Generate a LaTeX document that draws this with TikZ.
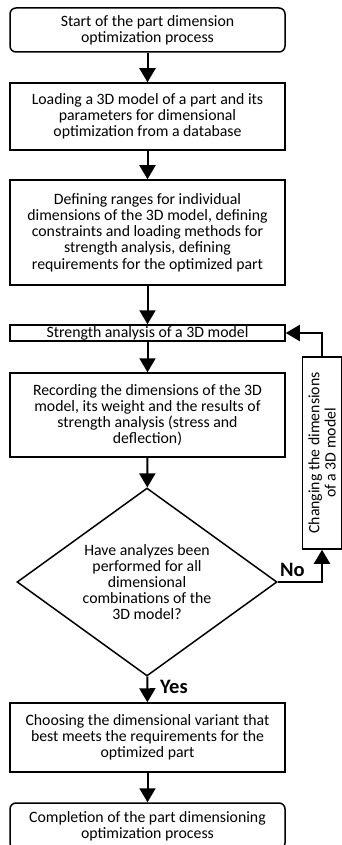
\documentclass[tikz,border=0pt]{standalone}
\usepackage{fontspec}
\setmainfont{Carlito}
\usetikzlibrary{shapes.geometric, arrows.meta, calc}

\begin{document}
\begin{tikzpicture}[x=1pt, y=1pt,
	every node/.style={font=\fontsize{15.8}{16.2}\selectfont, align=center},
	stepbox/.style={draw, line width=1.5pt, minimum width=275pt, inner sep=0pt},
	endbox/.style={stepbox, rounded corners=6pt},
	answer/.style={font=\fontsize{20.5}{22}\selectfont\bfseries, inner sep=0pt},
	flow/.style={line width=2pt, -{Triangle[width=16pt, length=14pt]}}]

	\useasboundingbox (0,0) rectangle (342,-845);

	\node[endbox, minimum height=44pt] (start) at (147.5,-30) {Start of the part dimension\\optimization process};
	\node[stepbox, minimum height=67pt] (load) at (147.5,-116.5) {Loading a 3D model of a part and its\\parameters for dimensional\\optimization from a database};
	\node[stepbox, minimum height=105pt] (define) at (147.5,-232.5) {Defining ranges for individual\\dimensions of the 3D model, defining\\constraints and loading methods for\\strength analysis, defining\\requirements for the optimized part};
	\node[stepbox, minimum height=16pt] (strength) at (147.5,-333) {Strength analysis of a 3D model};
	\node[stepbox, minimum height=84pt] (record) at (147.5,-415) {Recording the dimensions of the 3D\\model, its weight and the results of\\strength analysis (stress and\\deflection)};
	\node[draw, diamond, line width=1.5pt, aspect=1.4, inner sep=0pt, minimum width=260pt, minimum height=188pt] (check) at (147,-582) {Have analyzes been\\performed for all\\dimensional\\combinations of the\\3D model?};
	\node[stepbox, minimum height=69pt] (choose) at (147.5,-737.5) {Choosing the dimensional variant that\\best meets the requirements for the\\optimized part};
	\node[endbox, minimum height=46pt] (finish) at (147.5,-826) {Completion of the part dimensioning\\optimization process};

	\node[draw, line width=1.5pt, rotate=90, minimum width=192pt, minimum height=39pt, inner sep=0pt] (change) at (322,-453) {Changing the dimensions\\of a 3D model};

	\node[answer, anchor=base west] (yes) at (160,-693) {Yes};
	\node[answer, anchor=base west] (no) at (280,-576) {No};

	\draw[flow] (start) -- (load);
	\draw[flow] (load) -- (define);
	\draw[flow] (define) -- (strength);
	\draw[flow] (strength) -- (record);
	\draw[flow] (record) -- (check);
	\draw[flow] (check) -- (choose);
	\draw[flow] (choose) -- (finish);
	\draw[flow] (check.east) -| (change.west);
	\draw[flow] (change.east) |- (strength.east);
\end{tikzpicture}
\end{document}
